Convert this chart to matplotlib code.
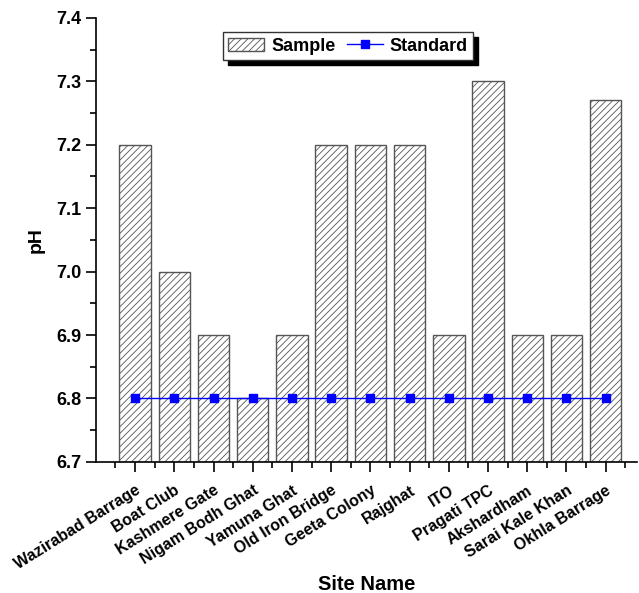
import matplotlib
matplotlib.use('Agg')
import matplotlib.pyplot as plt
import numpy as np

sites = ['Wazirabad Barrage', 'Boat Club', 'Kashmere Gate', 'Nigam Bodh Ghat',
         'Yamuna Ghat', 'Old Iron Bridge', 'Geeta Colony', 'Rajghat', 'ITO',
         'Pragati TPC', 'Akshardham', 'Sarai Kale Khan', 'Okhla Barrage']
sample = [7.2, 7.0, 6.9, 6.8, 6.9, 7.2, 7.2, 7.2, 6.9, 7.3, 6.9, 6.9, 7.27]
standard = [6.8] * 13

plt.rcParams['font.family'] = ['Liberation Sans', 'DejaVu Sans']
plt.rcParams['font.weight'] = 'bold'
plt.rcParams['hatch.color'] = '#555555'
plt.rcParams['hatch.linewidth'] = 0.6

fig = plt.figure(figsize=(6.39, 5.93), dpi=100)
ax = fig.add_axes([0.150, 0.221, 0.847, 0.749])

x = np.arange(1, len(sites) + 1)
bars = ax.bar(x, np.array(sample) - 6.7, bottom=6.7, width=0.8, color='white',
              edgecolor='#555555', linewidth=1.0, hatch='/////', label='Sample', zorder=2)
line, = ax.plot(x, standard, color='blue', linewidth=1.0, marker='s', markersize=6,
                label='Standard', zorder=3)

ax.set_xlim(0, 13.8)
ax.set_ylim(6.7, 7.4)
ax.set_yticks(np.arange(6.7, 7.41, 0.1))
ax.set_yticks(np.arange(6.75, 7.4, 0.1), minor=True)
ax.set_xticks(x)
ax.set_xticks(np.arange(0.5, 14, 1.0), minor=True)
ax.set_xticklabels(sites, rotation=32, ha='right', rotation_mode='anchor',
                   fontsize=11.5, fontweight='bold')
ax.tick_params(axis='y', labelsize=13)
for lbl in ax.get_yticklabels():
    lbl.set_fontweight('bold')
ax.yaxis.set_major_formatter(matplotlib.ticker.FormatStrFormatter('%.1f'))
ax.tick_params(which='major', direction='out', length=7, width=1.2)
ax.tick_params(which='minor', direction='out', length=4, width=1.2)
ax.tick_params(axis='x', pad=8)

for s in ['top', 'right']:
    ax.spines[s].set_visible(False)
for s in ['left', 'bottom']:
    ax.spines[s].set_linewidth(1.2)

ax.set_xlabel('Site Name', fontsize=14.5, fontweight='bold', labelpad=2)
ax.set_ylabel('pH', fontsize=14, fontweight='bold', labelpad=8)

leg = ax.legend([bars, line], ['Sample', 'Standard'],
                loc='upper center', bbox_to_anchor=(0.466, 0.988), ncol=2,
                fontsize=13, frameon=True, fancybox=False, edgecolor='#333333',
                handlelength=2.0, columnspacing=0.6, handletextpad=0.4,
                borderpad=0.3,
                shadow={'color': 'black', 'alpha': 1.0, 'ox': 3.5, 'oy': -3.5})
leg.get_frame().set_linewidth(1.0)
for t in leg.get_texts():
    t.set_fontweight('bold')

fig.savefig('out.png', dpi=100)
